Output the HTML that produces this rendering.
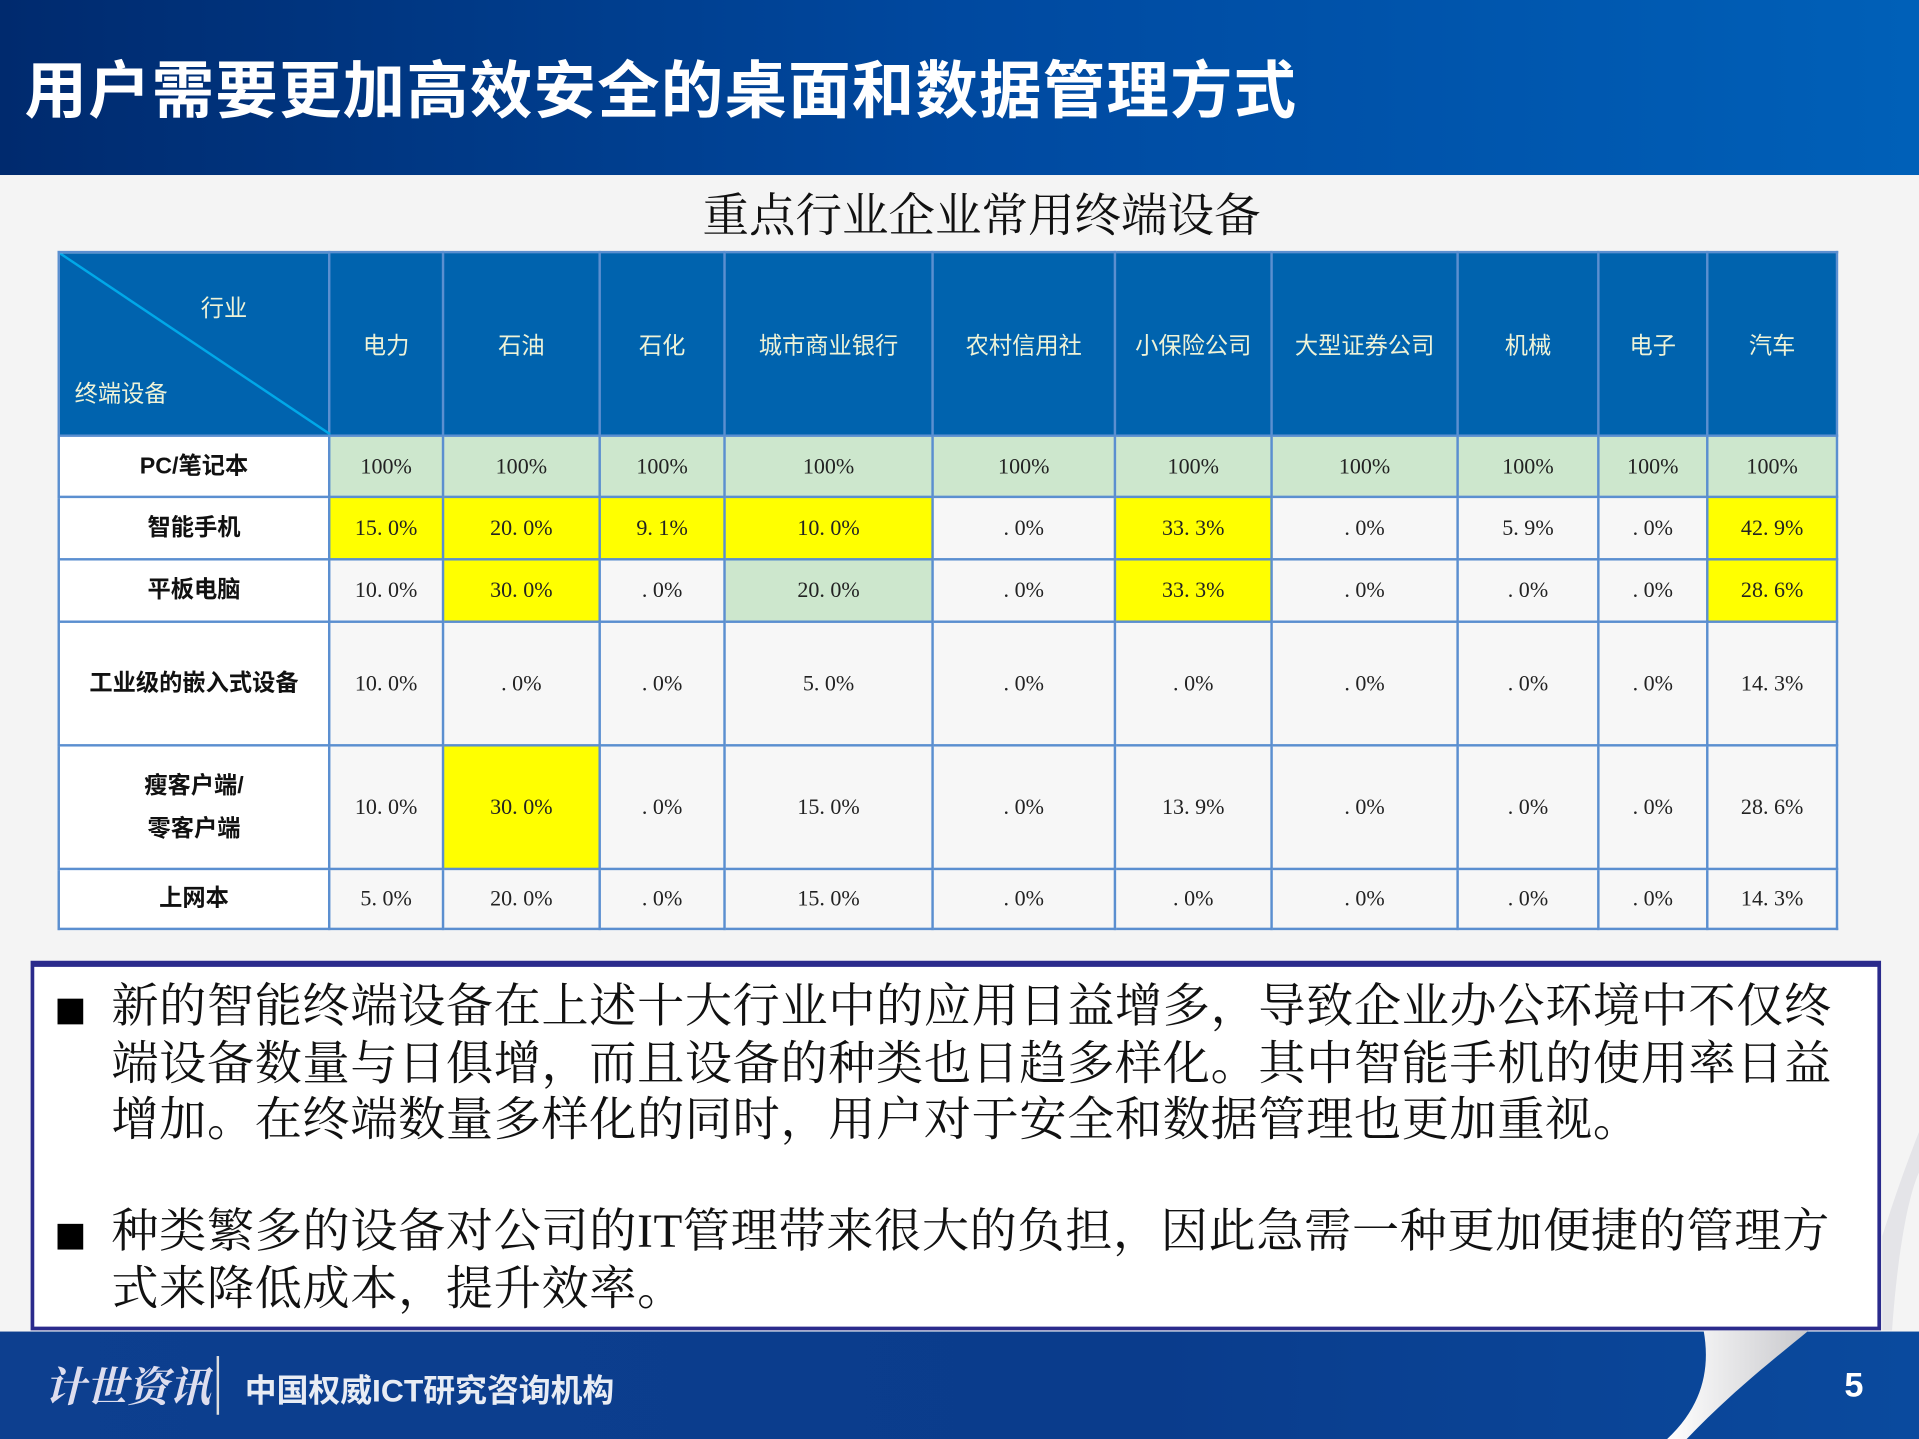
<!DOCTYPE html>
<html><head><meta charset="utf-8"><style>
html,body{margin:0;padding:0;width:1919px;height:1439px;overflow:hidden;background:#f4f4f4}
#w{position:absolute;left:0;top:0;width:1568px;height:1176px;transform:scale(1.22385);transform-origin:0 0;background:#f4f4f4;font-family:"Liberation Sans","Noto Sans CJK SC",sans-serif}
.hd{position:absolute;left:0;top:0;width:1568px;height:143px;background:linear-gradient(90deg,#002a6e 0%,#0049a0 50%,#0060b8 100%)}
.tt{position:absolute;left:20px;top:33px;font-size:51px;font-weight:bold;color:#fff;letter-spacing:1px;white-space:nowrap}
.st{position:absolute;left:0;width:1604px;top:145px;text-align:center;font-family:"Liberation Serif","Noto Serif CJK SC",serif;font-size:38px;color:#111}
table{position:absolute;left:47px;top:205px;border-collapse:collapse;width:1453px;table-layout:fixed}
td{border:2px solid #5b8fd0;text-align:center;font-family:"Liberation Serif","Noto Serif CJK SC",serif;font-size:18px;color:#222;background:#f7f7f7;padding:0}
tr.h td{background:#0063ae;color:#eef3d8;font-family:"Liberation Sans","Noto Sans CJK SC",sans-serif;font-size:19px;height:148px}
td.l{font-family:"Liberation Sans","Noto Sans CJK SC",sans-serif;font-weight:bold;font-size:19px;color:#111;background:#fff;line-height:35px}
.g{background:#cde7cd}.y{background:#ffff00}
.box{position:absolute;left:25px;top:785px;width:1506px;height:294px;background:#fff;border:3px solid #2b2b8c;border-top-width:5px;z-index:2}
.p{position:absolute;left:63px;font-family:"Liberation Serif","Noto Serif CJK SC",serif;font-size:38.5px;line-height:46.5px;color:#111;white-space:nowrap;letter-spacing:0.55px}
.b{position:absolute;left:19px;width:21px;height:21px;background:#000}
.ft{position:absolute;left:0;top:1088px;width:1568px;height:88px;background:linear-gradient(90deg,#0d3f8f,#0a3c8c 60%,#0a4a9e)}
</style></head><body><div id="w">
<div class="hd"><div class="tt">用户需要更加高效安全的桌面和数据管理方式</div></div>
<div class="st">重点行业企业常用终端设备</div>
<table>
<colgroup><col style="width:221px"><col style="width:93px"><col style="width:128px"><col style="width:102px"><col style="width:170px"><col style="width:149px"><col style="width:128px"><col style="width:152px"><col style="width:115px"><col style="width:89px"><col style="width:106px"></colgroup>
<tr class="h"><td style="position:relative;text-align:left"><svg style="position:absolute;left:0;top:0" width="221" height="148"><line x1="0" y1="0" x2="221" y2="148" stroke="#00a8e8" stroke-width="2"/></svg><span style="position:absolute;left:115px;top:30px">行业</span><span style="position:absolute;left:12px;top:100px">终端设备</span></td><td>电力</td><td>石油</td><td>石化</td><td>城市商业银行</td><td>农村信用社</td><td>小保险公司</td><td>大型证券公司</td><td>机械</td><td>电子</td><td>汽车</td></tr>
<tr style="height:50px"><td class="l">PC/笔记本</td><td class="g">100%</td><td class="g">100%</td><td class="g">100%</td><td class="g">100%</td><td class="g">100%</td><td class="g">100%</td><td class="g">100%</td><td class="g">100%</td><td class="g">100%</td><td class="g">100%</td></tr>
<tr style="height:51px"><td class="l">智能手机</td><td class="y">15. 0%</td><td class="y">20. 0%</td><td class="y">9. 1%</td><td class="y">10. 0%</td><td>. 0%</td><td class="y">33. 3%</td><td>. 0%</td><td>5. 9%</td><td>. 0%</td><td class="y">42. 9%</td></tr>
<tr style="height:51px"><td class="l">平板电脑</td><td>10. 0%</td><td class="y">30. 0%</td><td>. 0%</td><td class="g">20. 0%</td><td>. 0%</td><td class="y">33. 3%</td><td>. 0%</td><td>. 0%</td><td>. 0%</td><td class="y">28. 6%</td></tr>
<tr style="height:101px"><td class="l">工业级的嵌入式设备</td><td>10. 0%</td><td>. 0%</td><td>. 0%</td><td>5. 0%</td><td>. 0%</td><td>. 0%</td><td>. 0%</td><td>. 0%</td><td>. 0%</td><td>14. 3%</td></tr>
<tr style="height:101px"><td class="l">瘦客户端/<br>零客户端</td><td>10. 0%</td><td class="y">30. 0%</td><td>. 0%</td><td>15. 0%</td><td>. 0%</td><td>13. 9%</td><td>. 0%</td><td>. 0%</td><td>. 0%</td><td>28. 6%</td></tr>
<tr style="height:49px"><td class="l">上网本</td><td>5. 0%</td><td>20. 0%</td><td>. 0%</td><td>15. 0%</td><td>. 0%</td><td>. 0%</td><td>. 0%</td><td>. 0%</td><td>. 0%</td><td>14. 3%</td></tr>
</table>
<div class="ft">
<div style="position:absolute;left:36px;top:18px;font-family:'Liberation Serif','Noto Serif CJK SC',serif;font-size:34px;color:#dde;font-style:italic;font-weight:bold">计世资讯</div>
<div style="position:absolute;left:177px;top:20px;width:2px;height:48px;background:#ddd"></div>
<div style="position:absolute;left:200px;top:28px;font-size:26px;font-weight:bold;color:#e8ecf4">中国权威ICT研究咨询机构</div>
</div>
<svg style="position:absolute;left:0;top:0;z-index:1" width="1568" height="1176">
<defs><linearGradient id="cg" x1="0" y1="0" x2="1" y2="0"><stop offset="0" stop-color="#ffffff"/><stop offset="1" stop-color="#c8c8cc"/></linearGradient></defs>
<path d="M1392,1087 C1398,1120 1390,1150 1362,1176 L1378,1176 C1412,1140 1450,1110 1478,1087 Z" fill="url(#cg)"/>
<path d="M1568,925 C1556,955 1546,985 1538,1010 L1538,1087 L1546,1087 C1550,1030 1558,980 1568,958 Z" fill="#e4e4e8"/>
</svg>
<div style="position:absolute;left:1507px;top:1116px;font-size:28px;font-weight:bold;color:#fff;z-index:3">5</div>
<div class="box">
<div class="b" style="top:26px"></div>
<div class="p" style="top:10px">新的智能终端设备在上述十大行业中的应用日益增多，导致企业办公环境中不仅终<br>端设备数量与日俱增，而且设备的种类也日趋多样化。其中智能手机的使用率日益<br>增加。在终端数量多样化的同时，用户对于安全和数据管理也更加重视。</div>
<div class="b" style="top:210px"></div>
<div class="p" style="top:194px">种类繁多的设备对公司的IT管理带来很大的负担，因此急需一种更加便捷的管理方<br>式来降低成本，提升效率。</div>
</div>
</div></body></html>
